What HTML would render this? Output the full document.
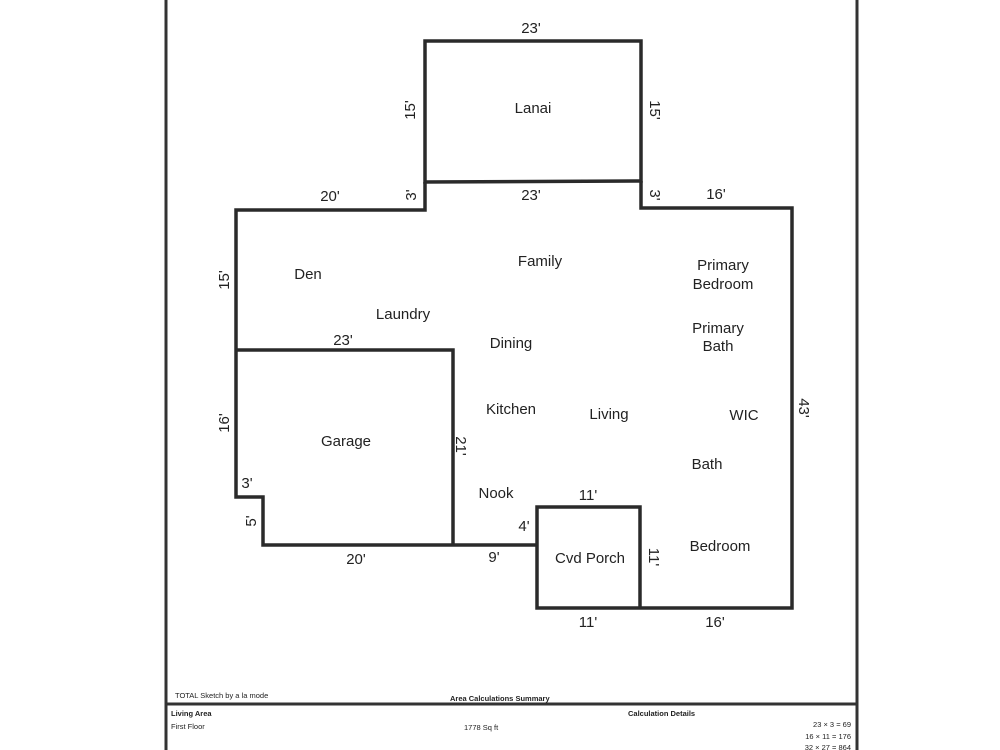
<!DOCTYPE html>
<html><head><style>html,body{margin:0;padding:0;background:#fff;}svg{display:block}</style></head>
<body>
<svg width="1000" height="750" xmlns="http://www.w3.org/2000/svg" font-family="Liberation Sans, Arial, sans-serif">
<rect width="1000" height="750" fill="#fff"/>
<g stroke="#333" stroke-width="3" fill="none">
<line x1="166" y1="0" x2="166" y2="750"/>
<line x1="857" y1="0" x2="857" y2="750"/>
<line x1="166" y1="704" x2="857" y2="704"/>
</g>
<g stroke="#2a2a2a" stroke-width="3.5" fill="none" stroke-linejoin="miter">
<polygon points="425,41 641,41 641,181 425,182"/>
<polyline points="425,182 425,210 236,210 236,497 263,497 263,545 537,545"/>
<polyline points="641,181 641,208 792,208 792,608 537,608 537,507 640,507 640,608"/>
<polyline points="236,350 453,350 453,545"/>
</g>
<g font-size="15" fill="#222" text-anchor="middle">
<text x="531" y="33">23'</text>
<text x="531" y="200">23'</text>
<text x="330" y="201">20'</text>
<text x="716" y="199">16'</text>
<text x="343" y="345">23'</text>
<text x="356" y="564">20'</text>
<text x="494" y="562">9'</text>
<text x="524" y="531">4'</text>
<text x="247" y="488">3'</text>
<text x="588" y="500">11'</text>
<text x="588" y="627">11'</text>
<text x="715" y="627">16'</text>
<text transform="translate(415,110) rotate(-90)">15'</text>
<text transform="translate(650,110) rotate(90)">15'</text>
<text transform="translate(416,195) rotate(-90)">3'</text>
<text transform="translate(650,195) rotate(90)">3'</text>
<text transform="translate(229,280) rotate(-90)">15'</text>
<text transform="translate(229,423) rotate(-90)">16'</text>
<text transform="translate(256,521) rotate(-90)">5'</text>
<text transform="translate(456,446) rotate(90)">21'</text>
<text transform="translate(799,408) rotate(90)">43'</text>
<text transform="translate(649,557) rotate(90)">11'</text>
</g>
<g font-size="15" fill="#222" text-anchor="middle">
<text x="533" y="113">Lanai</text>
<text x="308" y="279">Den</text>
<text x="540" y="266">Family</text>
<text x="723" y="270">Primary</text>
<text x="723" y="289">Bedroom</text>
<text x="403" y="319">Laundry</text>
<text x="511" y="348">Dining</text>
<text x="718" y="333">Primary</text>
<text x="718" y="351">Bath</text>
<text x="346" y="446">Garage</text>
<text x="511" y="414">Kitchen</text>
<text x="609" y="419">Living</text>
<text x="744" y="420">WIC</text>
<text x="707" y="469">Bath</text>
<text x="496" y="498">Nook</text>
<text x="590" y="563">Cvd Porch</text>
<text x="720" y="551">Bedroom</text>
</g>
<g font-size="7.5" fill="#222">
<text x="175" y="698">TOTAL Sketch by a la mode</text>
<text x="450" y="701" font-weight="bold">Area Calculations Summary</text>
<text x="171" y="716" font-weight="bold">Living Area</text>
<text x="171" y="729">First Floor</text>
<text x="464" y="730">1778 Sq ft</text>
<text x="628" y="716" font-weight="bold">Calculation Details</text>
<text x="851" y="727" text-anchor="end">23 × 3  =   69</text>
<text x="851" y="739" text-anchor="end">16 × 11 = 176</text>
<text x="851" y="750" text-anchor="end">32 × 27 = 864</text>
</g>
</svg>
</body></html>
